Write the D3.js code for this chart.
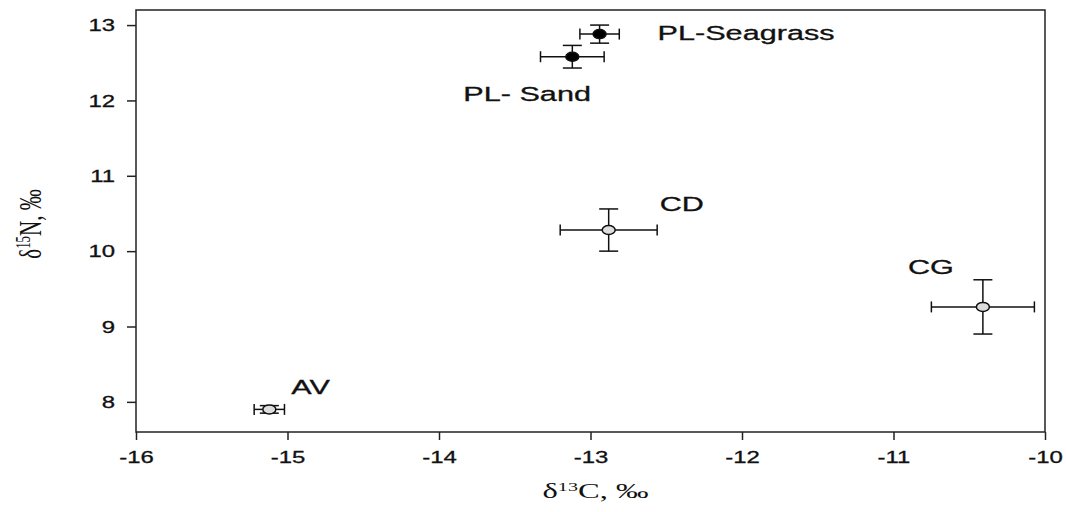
<!DOCTYPE html>
<html>
<head>
<meta charset="utf-8">
<script src="https://cdn.jsdelivr.net/npm/d3@7"></script>
<style>
  body { margin: 0; background: #fff; }
  svg { display: block; }
</style>
</head>
<body>
<script>
// isotope means per group, with SD
var groups = ["PL-Seagrass", "PL- Sand", "CD", "CG", "AV"];
var d13C = [-12.94, -13.12, -12.88, -10.41, -15.12];
var d15N = [12.88, 12.58, 10.28, 9.26, 7.90];
var sdC = [0.13, 0.21, 0.32, 0.34, 0.10];
var sdN = [0.12, 0.15, 0.28, 0.36, 0.05];
var filled = [true, true, false, false, false];
var xTicks = [-16, -15, -14, -13, -12, -11, -10];
var yTicks = [8, 9, 10, 11, 12, 13];

var width = 1066, height = 512;
var plotL = 136, plotR = 1045, plotT = 10, plotB = 432;
var stretch = 1.55; // the figure is drawn wide

var x = d3.scaleLinear().domain([-16, -10]).range([plotL, plotR]);
var y = d3.scaleLinear().domain([7.6, 13.2]).range([plotB, plotT]);

var svg = d3.select("body").append("svg")
    .attr("width", width)
    .attr("height", height);

svg.append("rect")
    .attr("x", plotL).attr("y", plotT)
    .attr("width", plotR - plotL).attr("height", plotB - plotT)
    .attr("fill", "none")
    .attr("stroke", "#222")
    .attr("stroke-width", 1.5);

var xAxis = svg.append("g")
    .attr("transform", "translate(0," + plotB + ")")
    .call(d3.axisBottom(x).tickValues(xTicks).tickSize(8).tickSizeOuter(0)
      .tickFormat(function(d) { return String(d); }));

var yAxis = svg.append("g")
    .attr("transform", "translate(" + plotL + ",0)")
    .call(d3.axisLeft(y).tickValues(yTicks).tickSize(9).tickSizeOuter(0)
      .tickFormat(function(d) { return String(d); }));

[xAxis, yAxis].forEach(function(g) {
  g.select(".domain").remove();
  g.selectAll(".tick line").attr("stroke", "#222").attr("stroke-width", 1.5);
  g.selectAll(".tick text")
      .attr("fill", "#111")
      .attr("stroke", "#111")
      .attr("stroke-width", 0.3)
      .style("font-family", "'Liberation Sans', Arial, sans-serif")
      .style("font-size", "16.5px");
});

xAxis.selectAll(".tick text")
    .attr("y", 0).attr("dy", 0)
    .attr("transform", "translate(0,31) scale(1.45,1)");

yAxis.selectAll(".tick text")
    .attr("x", 0).attr("dy", "0.35em")
    .attr("transform", "translate(-21,0) scale(1.45,1)");

// error bars
var capY = 9.5, capX = 5.5;
var pts = svg.append("g").selectAll("g")
    .data(groups)
  .enter().append("g")
    .attr("stroke", "#111")
    .attr("stroke-width", 1.5);

pts.each(function(d, i) {
  var g = d3.select(this);
  var cx = x(d13C[i]), cy = y(d15N[i]);
  var x0 = x(d13C[i] - sdC[i]), x1 = x(d13C[i] + sdC[i]);
  var y0 = y(d15N[i] - sdN[i]), y1 = y(d15N[i] + sdN[i]);
  g.append("line").attr("x1", x0).attr("x2", x1).attr("y1", cy).attr("y2", cy);
  g.append("line").attr("x1", x0).attr("x2", x0).attr("y1", cy - capX).attr("y2", cy + capX);
  g.append("line").attr("x1", x1).attr("x2", x1).attr("y1", cy - capX).attr("y2", cy + capX);
  g.append("line").attr("x1", cx).attr("x2", cx).attr("y1", y0).attr("y2", y1);
  g.append("line").attr("x1", cx - capY).attr("x2", cx + capY).attr("y1", y0).attr("y2", y0);
  g.append("line").attr("x1", cx - capY).attr("x2", cx + capY).attr("y1", y1).attr("y2", y1);
  g.append("ellipse")
      .attr("cx", cx).attr("cy", cy)
      .attr("rx", 6.5).attr("ry", 4.5)
      .attr("fill", filled[i] ? "#000" : "#ddd");
});

// label offsets from each point, in px
var labelOff = [[58, 6], [-109, 44], [51, -19], [-75, -33], [22, -15]];

svg.append("g").selectAll("text")
    .data(groups)
  .enter().append("text")
    .attr("transform", function(d, i) {
      return "translate(" + (x(d13C[i]) + labelOff[i][0]) + "," + (y(d15N[i]) + labelOff[i][1]) +
        ") scale(1.57,1)";
    })
    .style("font-family", "'Liberation Sans', Arial, sans-serif")
    .style("font-size", "19.5px")
    .attr("fill", "#111")
    .attr("stroke", "#111")
    .attr("stroke-width", 0.3)
    .text(function(d) { return d; });

// axis titles
var xt = svg.append("text")
    .attr("transform", "translate(" + ((plotL + plotR) / 2 + 5) + ",498) scale(" + stretch + ",1)")
    .attr("text-anchor", "middle")
    .style("font-family", "'Liberation Serif', 'Times New Roman', serif")
    .style("font-size", "21px")
    .attr("fill", "#111");
xt.append("tspan").text("δ");
xt.append("tspan").attr("dy", -7).style("font-size", "13px").text("13");
xt.append("tspan").attr("dy", 7).text("C, ‰");

var yt = svg.append("text")
    .attr("transform", "translate(41,224) scale(" + stretch + ",1) rotate(-90)")
    .attr("text-anchor", "middle")
    .style("font-family", "'Liberation Serif', 'Times New Roman', serif")
    .style("font-size", "21px")
    .attr("fill", "#111");
yt.append("tspan").text("δ");
yt.append("tspan").attr("dy", -7).style("font-size", "13px").text("15");
yt.append("tspan").attr("dy", 7).text("N, ‰");
</script>
</body>
</html>
